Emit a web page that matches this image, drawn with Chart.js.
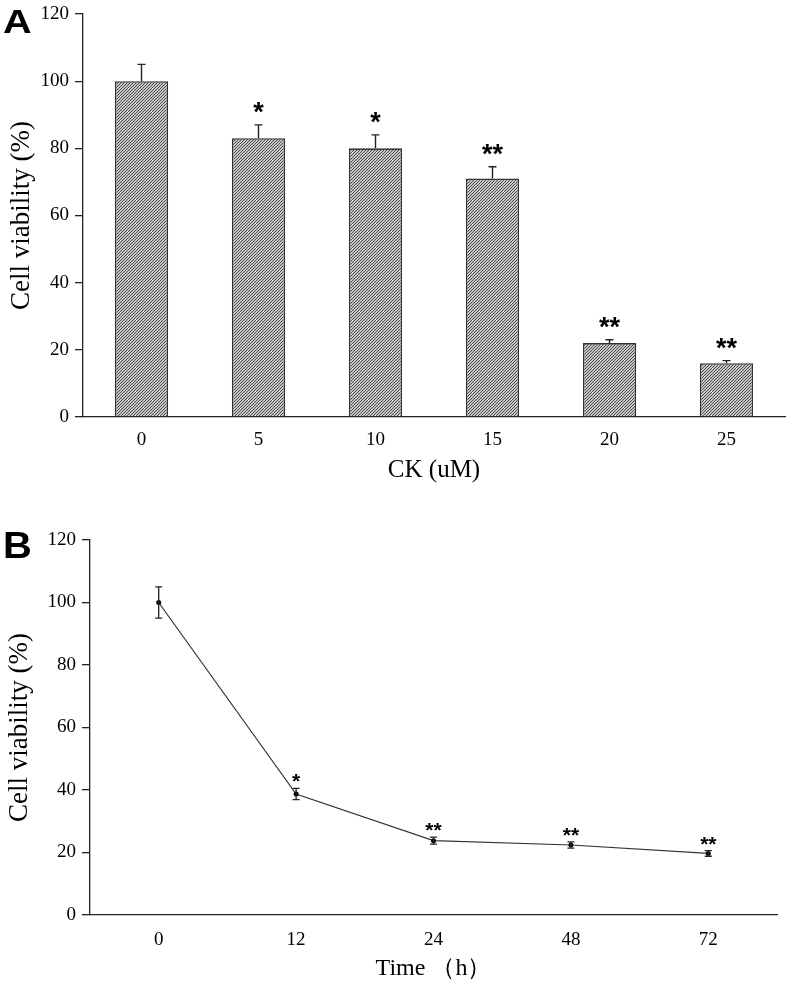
<!DOCTYPE html>
<html><head><meta charset="utf-8">
<script src="https://cdn.jsdelivr.net/npm/chart.js@4"></script>
<style>
html,body{margin:0;padding:0;background:#fff;}
#wrap{position:relative;width:792px;height:987px;overflow:hidden;}
canvas{position:absolute;left:0;}
.lab{position:absolute;font-family:"Liberation Sans",Arial,sans-serif;font-weight:bold;line-height:1;color:#000;transform-origin:0 0;}
</style></head><body>
<div id="wrap">
<canvas id="ca" width="792" height="490" style="top:0"></canvas>
<canvas id="cb" width="792" height="497" style="top:490px"></canvas>
<div class="lab" style="left:3px;top:5px;font-size:33px;transform:scaleX(1.2)">A</div>
<div class="lab" style="left:3px;top:527px;font-size:37px;transform:scaleX(1.08)">B</div>
</div>
<script>
// ---- data ----
const doseLabels = ['0','5','10','15','20','25'];
const doseViability = [100,83,80,71,22,16];
const doseError = [5,4,4,3.5,1,0.8];
const doseSig = ['','*','*','**','**','**'];

const timeLabels = ['0','12','24','48','72'];
const timeViability = [100,38.7,23.8,22.4,19.7];
const timeError = [5,1.8,1.1,1,0.9];
const timeSig = ['','*','**','**','**'];

const yTicks = [0,20,40,60,80,100,120];

const SERIF = '"Liberation Serif","Times New Roman",serif';
const SANS = '"Liberation Sans",Arial,sans-serif';
const AXIS = '#222';

// hatch pattern
function makeHatch(){
  const c = document.createElement('canvas');
  c.width = 3; c.height = 3;
  const g = c.getContext('2d');
  g.fillStyle = '#fff'; g.fillRect(0,0,3,3);
  g.strokeStyle = '#404040'; g.lineWidth = 1.1;
  g.beginPath();
  g.moveTo(0,3); g.lineTo(3,0);
  g.moveTo(-1,1); g.lineTo(1,-1);
  g.moveTo(2,4); g.lineTo(4,2);
  g.stroke();
  return g.createPattern(c,'repeat');
}

const errPlugin = {
  id:'err',
  afterDatasetsDraw(chart, args, o){
    const ctx = chart.ctx, y = chart.scales.y;
    const meta = chart.getDatasetMeta(0);
    ctx.save();
    ctx.strokeStyle = '#222'; ctx.lineWidth = o.lw;
    o.values.forEach((v,i)=>{
      const px = meta.data[i].x;
      const yTop = y.getPixelForValue(v + o.err[i]);
      const yBase = o.both ? y.getPixelForValue(v - o.err[i]) : y.getPixelForValue(v);
      ctx.beginPath();
      ctx.moveTo(px,yBase); ctx.lineTo(px,yTop);
      ctx.moveTo(px-o.cap,yTop); ctx.lineTo(px+o.cap,yTop);
      if(o.both){ ctx.moveTo(px-o.cap,yBase); ctx.lineTo(px+o.cap,yBase); }
      ctx.stroke();
      if(o.sig[i]){
        ctx.fillStyle = '#000'; ctx.font = o.font;
        ctx.textAlign = 'center'; ctx.textBaseline = 'alphabetic';
        ctx.fillText(o.sig[i], px, yTop - o.gap);
      }
    });
    ctx.restore();
  }
};

const yAxisCommon = (width, titlePad) => ({
  min:0, max:120,
  afterBuildTicks(s){ s.ticks = yTicks.map(v=>({value:v})); },
  grid:{drawOnChartArea:false, drawTicks:true, tickLength:8, color:AXIS, lineWidth:1.3},
  border:{display:true, color:AXIS, width:1.3},
  ticks:{font:{family:SERIF,size:19}, color:'#000', padding:6},
  title:{display:true, text:'Cell viability (%)', color:'#000',
         font:{family:SERIF,size:27}, padding:{top:titlePad,bottom:0}},
  afterFit(s){ s.width = width; s.paddingTop = 0; s.paddingBottom = 0; }
});

// ---- Chart A ----
new Chart(document.getElementById('ca'), {
  type:'bar',
  data:{labels:doseLabels, datasets:[{
    data:doseViability, backgroundColor:makeHatch(), borderColor:'#333', borderWidth:1.6,
    barPercentage:0.455, categoryPercentage:1
  }]},
  options:{
    responsive:false, animation:false,
    layout:{padding:{left:0,right:7,top:14,bottom:0}},
    plugins:{legend:{display:false}, tooltip:{enabled:false},
      err:{values:doseViability, err:doseError, sig:doseSig, both:false, cap:4, lw:1.4,
           font:'bold 27px '+SANS, gap:4}},
    scales:{
      x:{grid:{display:false, drawTicks:false}, border:{display:true,color:AXIS,width:1.3},
         ticks:{font:{family:SERIF,size:19}, color:'#000', padding:12},
         title:{display:true, text:'CK (uM)', color:'#000', font:{family:SERIF,size:25}, padding:{top:0,bottom:5}},
         afterFit(s){ s.height = 73; }},
      y:yAxisCommon(83, 6)
    }
  },
  plugins:[errPlugin]
});

// ---- Chart B ----
new Chart(document.getElementById('cb'), {
  type:'line',
  data:{labels:timeLabels, datasets:[{
    data:timeViability, borderColor:'#333', borderWidth:1.2, tension:0,
    pointRadius:2.5, pointBackgroundColor:'#000', pointBorderColor:'#000', pointBorderWidth:0
  }]},
  options:{
    responsive:false, animation:false,
    layout:{padding:{left:0,right:15,top:50,bottom:0}},
    plugins:{legend:{display:false}, tooltip:{enabled:false},
      err:{values:timeViability, err:timeError, sig:timeSig, both:true, cap:3.5, lw:1.3,
           font:'bold 21px '+SANS, gap:0}},
    scales:{
      x:{offset:true, grid:{display:false, drawTicks:false}, border:{display:true,color:AXIS,width:1.3},
         ticks:{font:{family:SERIF,size:19}, color:'#000', padding:14},
         title:{display:true, text:'Time （h）', color:'#000', font:{family:SERIF,size:24}, padding:{top:0,bottom:4}},
         afterFit(s){ s.height = 72; }},
      y:yAxisCommon(90, 4)
    }
  },
  plugins:[errPlugin]
});
</script>
</body></html>
